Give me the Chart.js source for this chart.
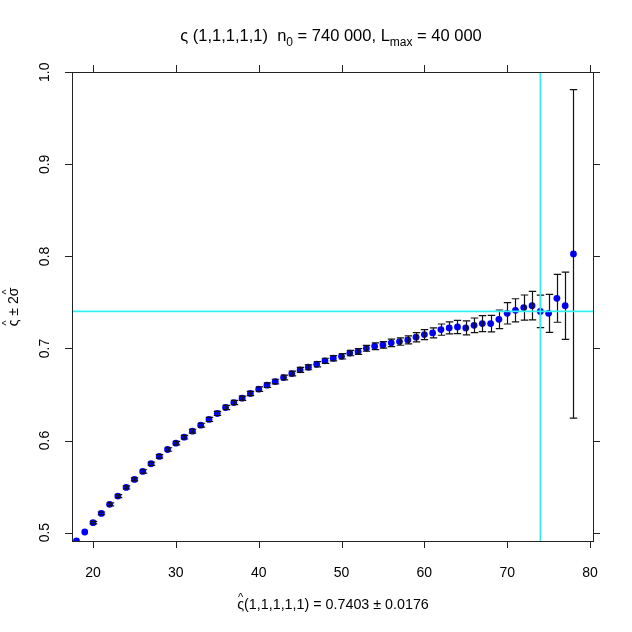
<!DOCTYPE html>
<html lang="en">
<head>
    <title>Estimate vs L</title>
    <meta name="viewport" content="width=device-width, initial-scale=1.0" charset="UTF-8">
    <script src="https://cdn.jsdelivr.net/npm/chart.js@4.4.0/dist/chart.umd.min.js"></script>
    <style>
        body {margin:0;padding:0;background:#fff;}
        canvas {display:block;}
    </style>
</head>
<body>
<canvas id="estChart" width="632" height="632"></canvas>
<script>
    // L values (x) and estimates with their 2-sigma half widths
    const lengths = [18,19,20,21,22,23,24,25,26,27,28,29,30,31,32,33,34,35,36,37,38,39,40,41,42,43,44,45,46,47,48,
        49,50,51,52,53,54,55,56,57,58,59,60,61,62,63,64,65,66,67,68,69,70,71,72,73,74,75,76,77,78];
    const estimates = [0.4909,0.5007,0.5108,0.5209,0.5307,0.5397,0.5491,0.5578,0.5665,0.5748,0.5828,0.5903,0.5972,
        0.6037,0.6102,0.6167,0.6229,0.6294,0.6359,0.6413,0.6460,0.6511,0.6558,0.6601,0.6641,0.6684,0.6728,0.6768,
        0.6796,0.6829,0.6866,0.6894,0.6915,0.6950,0.6968,0.7002,0.7024,0.7039,0.7061,0.7075,0.7093,0.7122,0.7151,
        0.7169,0.7205,0.7223,0.7234,0.7223,0.7252,0.7270,0.7270,0.7317,0.7382,0.7414,0.7444,0.7465,0.7403,0.7382,
        0.7545,0.7465,0.8027];
    const twoSigma = [0,0,0.0014,0.0015,0.0016,0.0016,0.0017,0.0017,0.0018,0.0018,0.0019,0.0019,0.0020,0.0020,
        0.0021,0.0021,0.0022,0.0022,0.0023,0.0023,0.0023,0.0024,0.0024,0.0025,0.0025,0.0026,0.0026,0.0027,0.0027,
        0.0028,0.0028,0.0029,0.0029,0.0029,0.0032,0.0032,0.0036,0.0036,0.0040,0.0040,0.0043,0.0050,0.0054,0.0054,
        0.0061,0.0065,0.0072,0.0076,0.0079,0.0087,0.0090,0.0101,0.0116,0.0126,0.0137,0.0155,0.0176,0.0206,0.0260,
        0.0365,0.1784];
    const xTicks = [20,30,40,50,60,70,80];
    const yTicks = [0.5,0.6,0.7,0.8,0.9,1.0];
    const refL = 74;
    const refValue = 0.7403;

    const FONT = '"Liberation Sans", Arial, Helvetica, sans-serif';

    function drawHatted(ctx, ch, x, y, size) {
        // draws a char with a small ^ above it, returns advance width
        ctx.font = size + 'px ' + FONT;
        let w = ctx.measureText(ch).width;
        ctx.fillText(ch, x, y);
        ctx.font = Math.round(size * 0.8) + 'px ' + FONT;
        let hw = ctx.measureText('^').width;
        ctx.fillText('^', x + (w - hw) / 2, y - size * 0.58);
        return w;
    }

    function drawRuns(ctx, runs, cx, y, size) {
        // runs: {t, sub, hat}
        let total = 0;
        runs.forEach((r) => {
            ctx.font = (r.sub ? Math.round(size * 0.75) : size) + 'px ' + FONT;
            r.w = ctx.measureText(r.t).width;
            total += r.w;
        });
        let x = cx - total / 2;
        runs.forEach((r) => {
            if (r.hat) {
                drawHatted(ctx, r.t, x, y, size);
            } else {
                ctx.font = (r.sub ? Math.round(size * 0.75) : size) + 'px ' + FONT;
                ctx.fillText(r.t, x, r.sub ? y + size * 0.28 : y);
            }
            x += r.w;
        });
    }

    const errorBars = {
        id: 'errorBars',
        afterDatasetsDraw(chart) {
            const ctx = chart.ctx, xs = chart.scales.x, ys = chart.scales.y, a = chart.chartArea;
            ctx.save();
            ctx.beginPath();
            ctx.rect(a.left, a.top, a.right - a.left, a.bottom - a.top);
            ctx.clip();
            ctx.strokeStyle = '#111';
            ctx.lineWidth = 1.2;
            lengths.forEach((l, i) => {
                if (twoSigma[i] <= 0) return;
                let px = Math.round(xs.getPixelForValue(l)) + 0.5;
                let top = ys.getPixelForValue(estimates[i] + twoSigma[i]);
                let bot = ys.getPixelForValue(estimates[i] - twoSigma[i]);
                ctx.beginPath();
                ctx.moveTo(px, top); ctx.lineTo(px, bot);
                ctx.moveTo(px - 3.7, top); ctx.lineTo(px + 3.7, top);
                ctx.moveTo(px - 3.7, bot); ctx.lineTo(px + 3.7, bot);
                ctx.stroke();
            });
            // reference lines
            ctx.strokeStyle = '#33f0f0';
            ctx.lineWidth = 1.6;
            let rx = xs.getPixelForValue(refL), ry = ys.getPixelForValue(refValue);
            ctx.beginPath();
            ctx.moveTo(rx, a.top); ctx.lineTo(rx, a.bottom);
            ctx.moveTo(a.left, ry); ctx.lineTo(a.right, ry);
            ctx.stroke();
            ctx.restore();
        },
        afterDraw(chart) {
            const ctx = chart.ctx, xs = chart.scales.x, ys = chart.scales.y, a = chart.chartArea;
            ctx.save();
            ctx.strokeStyle = '#222';
            ctx.fillStyle = '#000';
            ctx.lineWidth = 1;
            ctx.strokeRect(Math.round(a.left) + 0.5, Math.round(a.top) + 0.5,
                Math.round(a.right - a.left), Math.round(a.bottom - a.top));
            const tl = 7;
            ctx.beginPath();
            xTicks.forEach((v) => {
                let px = Math.round(xs.getPixelForValue(v)) + 0.5;
                ctx.moveTo(px, a.bottom); ctx.lineTo(px, a.bottom + tl);
                ctx.moveTo(px, a.top); ctx.lineTo(px, a.top - tl);
            });
            yTicks.forEach((v) => {
                let py = Math.round(ys.getPixelForValue(v)) + 0.5;
                ctx.moveTo(a.left, py); ctx.lineTo(a.left - tl, py);
                ctx.moveTo(a.right, py); ctx.lineTo(a.right + tl, py);
            });
            ctx.stroke();

            ctx.font = '14px ' + FONT;
            ctx.textAlign = 'center';
            ctx.textBaseline = 'middle';
            xTicks.forEach((v) => {
                ctx.fillText(String(v), xs.getPixelForValue(v), 573);
            });
            yTicks.forEach((v) => {
                ctx.save();
                ctx.translate(45, ys.getPixelForValue(v));
                ctx.rotate(-Math.PI / 2);
                ctx.fillText(v.toFixed(1), 0, 0);
                ctx.restore();
            });

            ctx.textAlign = 'left';
            ctx.textBaseline = 'alphabetic';
            drawRuns(ctx, [
                {t: 'ς (1,1,1,1,1)  n'}, {t: '0', sub: true}, {t: ' = 740 000, L'},
                {t: 'max', sub: true}, {t: ' = 40 000'}
            ], 331, 41, 16.5);

            drawRuns(ctx, [
                {t: 'ς', hat: true}, {t: '(1,1,1,1,1) = 0.7403 \u00b1 0.0176'}
            ], 333, 609, 14.3);

            ctx.save();
            ctx.translate(18, 307);
            ctx.rotate(-Math.PI / 2);
            drawRuns(ctx, [
                {t: 'ς', hat: true}, {t: ' \u00b1 2'}, {t: 'σ', hat: true}
            ], 0, 0, 14);
            ctx.restore();
            ctx.restore();
        }
    };

    const points = lengths.map((l, i) => ({x: l, y: estimates[i]}));

    new Chart(document.getElementById('estChart'), {
        type: 'scatter',
        data: {
            datasets: [{
                data: points,
                backgroundColor: '#0000ff',
                borderColor: '#0000ff',
                borderWidth: 0,
                pointRadius: 3.4,
                clip: 0
            }]
        },
        options: {
            responsive: false,
            animation: false,
            layout: {padding: {left: 72, top: 72, right: 39, bottom: 91}},
            plugins: {legend: {display: false}, tooltip: {enabled: false}},
            scales: {
                x: {type: 'linear', display: false, min: 17.46, max: 80.36},
                y: {type: 'linear', display: false, min: 0.4909, max: 1.0003}
            }
        },
        plugins: [errorBars]
    });
</script>
</body>
</html>
